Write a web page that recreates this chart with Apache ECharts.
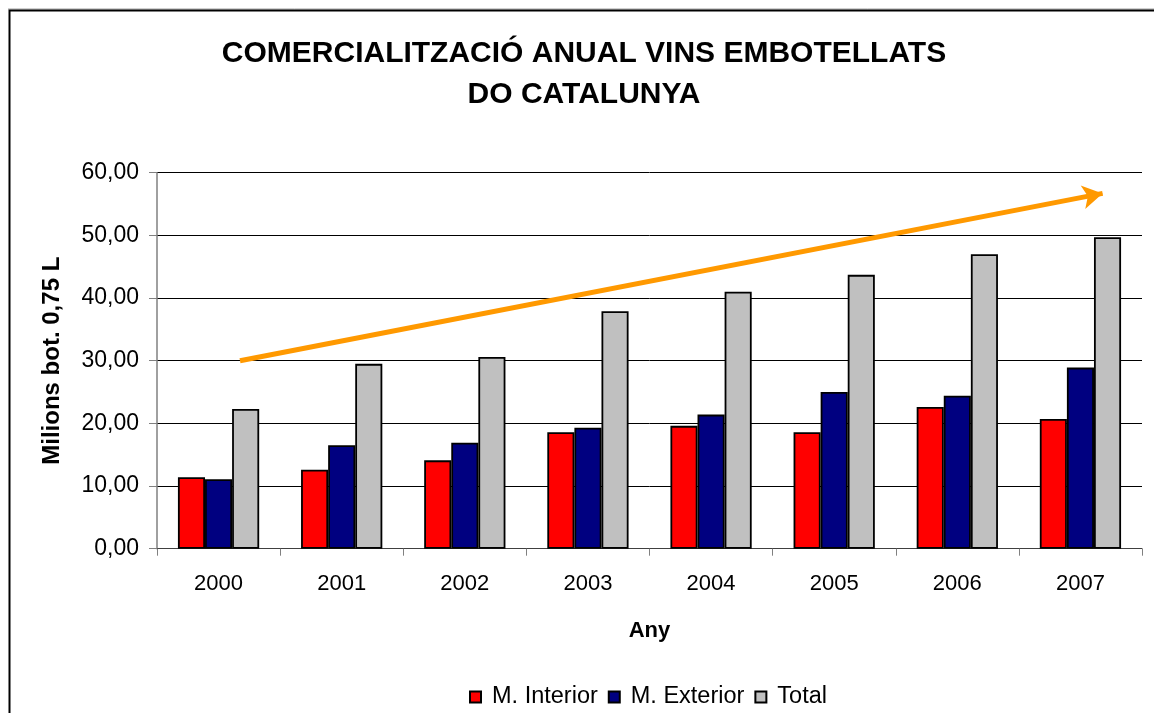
<!DOCTYPE html>
<html>
<head>
<meta charset="utf-8">
<script src="https://cdn.jsdelivr.net/npm/echarts@6/dist/echarts.min.js"></script>
<style>html,body{margin:0;padding:0;background:#fff}#c{width:1154px;height:713px}</style>
</head>
<body>
<div id="c"></div>
<script>
const years = ['2000','2001','2002','2003','2004','2005','2006','2007'];
const interior = [11.4, 12.6, 14.1, 18.6, 19.6, 18.6, 22.6, 20.7];
const exterior = [11.1, 16.5, 16.9, 19.3, 21.4, 25.0, 24.4, 28.9];
const total = [22.3, 29.5, 30.6, 37.9, 41.0, 43.7, 47.0, 49.7];
const trendStart = [0.674, 30.0];
const trendEnd = [7.68, 56.7];
const seriesNames = ['M. Interior', 'M. Exterior', 'Total'];
const seriesColors = ['#FF0000', '#000080', '#C0C0C0'];

const FONT = 'Arial, "Liberation Sans", sans-serif';
const chart = echarts.init(document.getElementById('c'), null, {renderer: 'canvas'});
const vals = [interior, exterior, total];
const bars = seriesNames.map((n, i) => ({
  name: n,
  type: 'bar',
  data: vals[i],
  barGap: '0%',
  barCategoryGap: '34%',
  itemStyle: {color: seriesColors[i], borderColor: '#000', borderWidth: 1.8},
  emphasis: {disabled: true}
}));
bars.push({
  type: 'line',
  xAxisIndex: 1,
  data: [],
  silent: true,
  markLine: {
    silent: true,
    symbol: ['none', 'arrow'],
    symbolSize: [18, 20],
    label: {show: false},
    lineStyle: {color: '#FF9900', width: 5, type: 'solid'},
    data: [[{coord: trendStart}, {coord: trendEnd}]]
  }
});
chart.setOption({
  animation: false,
  backgroundColor: '#fff',
  textStyle: {fontFamily: FONT},
  graphic: [
    {type: 'line', shape: {x1: 8, y1: 9, x2: 1154, y2: 9}, style: {stroke: '#A0A0A0', lineWidth: 1}},
    {type: 'rect', shape: {x: 9.5, y: 10.5, width: 1300, height: 900}, style: {fill: null, stroke: '#000', lineWidth: 2}},
    {type: 'text', x: 584, y: 33, style: {text: 'COMERCIALITZACIÓ ANUAL VINS EMBOTELLATS\nDO CATALUNYA', align: 'center', font: 'bold 30px ' + FONT, lineHeight: 41, fill: '#000'}}
  ],
  legend: {
    data: seriesNames,
    left: 464,
    top: 680,
    icon: 'rect',
    itemWidth: 11,
    itemHeight: 11,
    itemGap: 10,
    textStyle: {fontSize: 23.5, color: '#000', fontFamily: FONT, padding: [0, 0, 0, 6]}
  },
  grid: {left: 157, right: 12, top: 172.7, bottom: 164.3, containLabel: false},
  xAxis: [{
    type: 'category',
    data: years,
    name: 'Any',
    nameLocation: 'middle',
    nameGap: 71,
    nameTextStyle: {fontSize: 22, fontWeight: 'bold', color: '#000'},
    axisLine: {lineStyle: {color: '#404040', width: 1}},
    axisTick: {show: true, length: 7, inside: false, lineStyle: {color: '#808080'}},
    axisLabel: {fontSize: 22, color: '#000', margin: 24}
  }, {
    type: 'value', min: 0, max: 8, show: false
  }],
  yAxis: {
    type: 'value',
    min: 0, max: 60, interval: 10,
    name: 'Milions bot. 0,75 L',
    nameLocation: 'middle',
    nameGap: 93,
    nameRotate: 90,
    nameTextStyle: {fontSize: 24, fontWeight: 'bold', color: '#000'},
    axisLine: {show: true, lineStyle: {color: '#808080', width: 1.5}},
    axisTick: {show: true, length: 8, lineStyle: {color: '#808080'}},
    splitLine: {lineStyle: {color: '#000', width: 1}},
    axisLabel: {fontSize: 23, color: '#000', margin: 18, formatter: v => v.toFixed(2).replace('.', ',')}
  },
  series: bars
});
</script>
</body>
</html>
